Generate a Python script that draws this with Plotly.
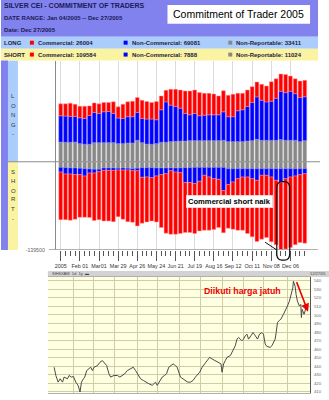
import plotly.graph_objects as go

W, H = 329, 400
def fx(x): return x / W
def fy(y): return 1 - y / H

# ---------------- COT data (contracts) ----------------
weeks = list(range(1, 53))
tick_weeks = [1, 5, 9, 13, 17, 21, 25, 29, 33, 37, 41, 45, 49]
tick_labels = ["2005", "Feb 01", "Mar01", "Mar 29", "Apr 26", "May 24", "Jun 21",
               "Jul 19", "Aug 16", "Sep 12", "Oct 11", "Nov 08", "Dec 06"]

long_comm = [18800, 19300, 20900, 19300, 18300, 19300, 15100, 15100, 15100, 14600,
             14100, 18300, 17800, 22500, 23500, 24500, 23500, 28700, 27700, 26100,
             28700, 21900, 18300, 25100, 27200, 28700, 35500, 37600, 37100, 36600,
             34500, 33900, 32900, 29800, 33400, 33900, 35500, 27700, 26100, 26100,
             25100, 23500, 25100, 25100, 30800, 30800, 27200, 28700, 24000, 23500,
             26100, 26004]
long_noncomm = [41300, 41300, 40700, 40200, 40700, 40700, 45400, 47500, 46000, 48600,
                49100, 46000, 40200, 39700, 41300, 41300, 43900, 38100, 39200, 39700,
                37600, 51200, 63700, 57500, 54800, 51700, 43400, 40700, 42800, 39200,
                40200, 40700, 40700, 40700, 44900, 39200, 39200, 48600, 50100, 54300,
                60100, 66900, 63200, 60600, 61600, 66300, 76300, 75200, 77300, 73600,
                69500, 69081]
long_nonrep = [31300, 30800, 30800, 31300, 28700, 27700, 27700, 30300, 30300, 30300,
               30300, 30300, 28700, 28700, 29800, 29800, 33900, 30300, 28200, 27700,
               28700, 30800, 30800, 31900, 32400, 32900, 32900, 33400, 33400, 33400,
               33400, 33400, 33400, 33400, 33900, 31900, 31900, 31900, 31900, 32900,
               33400, 35500, 33900, 33900, 33900, 33900, 35000, 33900, 33900, 33900,
               31900, 33411]
short_comm = [75200, 72100, 73100, 70600, 67400, 65200, 70400, 75200, 75700, 79900,
              79900, 81000, 73700, 77900, 81600, 81500, 87200, 72600, 71100, 68400,
              72600, 83600, 94000, 100400, 98200, 96100, 78900, 78800, 78800, 78400,
              86700, 84000, 80300, 76200, 66700, 68900, 74700, 81500, 84000, 89200,
              91900, 96600, 100800, 98200, 102200, 101700, 105600, 111100, 111100, 108500,
              107100, 109584]
short_noncomm = [7300, 9900, 9400, 10400, 9900, 11500, 6300, 5700, 3700, 3700,
                 3700, 3700, 2600, 3100, 2600, 3100, 3700, 15100, 14600, 15700,
                 12500, 10400, 8900, 4200, 6300, 7300, 23500, 23500, 25600, 21900,
                 12500, 15100, 17800, 18800, 36600, 25100, 20900, 15700, 13100, 13100,
                 15700, 18300, 10400, 10400, 13100, 18300, 21900, 15700, 13100, 11500,
                 9400, 7888]
short_nonrep = [8900, 9400, 9900, 9900, 10400, 11000, 11500, 12000, 12000, 9900,
                9900, 9900, 10400, 9900, 10400, 11000, 10400, 9400, 9400, 9400,
                9900, 9900, 9900, 9900, 9900, 9900, 9400, 9400, 8900, 8900,
                8900, 8900, 8900, 8900, 8900, 11000, 11000, 11000, 11000, 11000,
                11000, 11000, 11000, 11000, 11000, 11000, 11000, 11000, 11000, 11000,
                11000, 11024]

y_bottom, y_top = -139500, 159800

# ---------------- price data ----------------
price_day = [6.3, 8, 10.3, 12.3, 14.7, 16.3, 19.7, 21.3, 23.7, 25.7,
             28, 30.3, 32.3, 33.7, 35.7, 37, 39, 41.3, 43, 44.7,
             46.3, 49.7, 52.3, 54.7, 56.3, 59, 61.3, 63, 66.3, 69.7,
             72.3, 74.7, 77, 79.7, 83, 85.7, 88, 89.7, 93, 95.7,
             98, 101.3, 104.7, 108, 109.7, 112.3, 114.7, 117, 119, 121.3,
             123.7, 125.7, 128, 129.7, 133, 135.7, 138, 140.3, 143, 145.7,
             148, 149.7, 152.3, 154.7, 157, 159.7, 162.3, 164.7, 168, 171.3,
             173.7, 174.7, 176.3, 178, 179.7, 183, 184.7, 186.3, 188, 189.7,
             191.3, 193, 194.7, 196.3, 198, 199.7, 201.3, 203.7, 205.7, 207,
             209, 210.3, 212.3, 214.7, 216.3, 218, 219.7, 221.3, 223, 224.7,
             226.3, 228, 229, 230.3, 232.3, 233.7, 236.3, 239, 240.3, 242.3,
             243.7, 245.7, 246.3, 248, 249, 250.3, 252.3, 253.7, 254.3, 255,
             255.7, 257, 258, 259, 259.7]
price_val = [438.7, 429.0, 421.2, 425.1, 421.2, 427.1, 425.1, 429.0, 427.1, 427.8,
             421.2, 417.4, 409.6, 421.2, 425.1, 427.1, 434.8, 436.8, 438.7, 434.8,
             438.7, 440.6, 444.5, 446.5, 444.5, 440.6, 430.9, 427.1, 429.0, 429.0,
             427.1, 429.0, 430.9, 434.8, 436.8, 438.7, 434.8, 430.9, 425.1, 423.2,
             421.2, 419.3, 417.4, 421.2, 417.4, 423.2, 427.1, 429.0, 430.9, 438.7,
             440.6, 442.6, 440.6, 438.7, 427.1, 425.1, 423.2, 421.2, 421.2, 423.2,
             427.1, 429.0, 432.9, 438.7, 442.6, 446.5, 450.3, 448.4, 446.5, 444.5,
             442.6, 432.9, 442.6, 446.5, 450.3, 452.3, 456.2, 460.0, 463.9, 471.7,
             473.6, 471.7, 469.7, 471.7, 475.6, 477.5, 471.7, 475.6, 479.4, 477.5,
             473.6, 471.7, 477.5, 479.4, 477.5, 465.9, 463.1, 462.7, 462.0, 463.9,
             467.8, 471.7, 479.4, 491.1, 493.8, 495.0, 500.8, 506.6, 510.5, 516.3,
             524.1, 531.8, 539.6, 533.8, 524.1, 516.3, 510.5, 512.4, 497.0, 506.6,
             504.7, 500.8, 504.7, 508.5, 512.4]
price_month_ticks = [26, 46, 67, 90, 110, 132, 153, 175, 196, 216, 240]
price_ticks = [410, 420, 430, 440, 450, 460, 470, 480, 490, 500, 510, 520, 530, 540]
price_range = [408.4, 544.7]

RED, BLUE, GRAY = "#ff0000", "#0000ff", "#888888"

fig = go.Figure()

def bar(vals, color, edge, sign=1):
    fig.add_trace(go.Bar(x=weeks, y=[sign * v for v in vals], marker=dict(color=color, line=dict(color=edge, width=0.5)),
                         xaxis="x", yaxis="y", hoverinfo="skip"))

bar(long_nonrep, GRAY, "#c8c8c8")
bar(long_noncomm, BLUE, "#7070ff")
bar(long_comm, RED, "#ff9a9a")
bar(short_nonrep, GRAY, "#c8c8c8", -1)
bar(short_noncomm, BLUE, "#7070ff", -1)
bar(short_comm, RED, "#ff9a9a", -1)

fig.add_trace(go.Scatter(x=price_day, y=price_val, mode="lines", line=dict(color="#4a4a4a", width=1),
                         xaxis="x2", yaxis="y2", hoverinfo="skip"))

shapes = []
def rect(x0, y0, x1, y1, color, layer="below"):
    shapes.append(dict(type="rect", xref="paper", yref="paper", x0=fx(x0), x1=fx(x1), y0=fy(y1), y1=fy(y0),
                       fillcolor=color, line=dict(width=0), layer=layer))

PERI, LBLUE, LYEL = "#8282ee", "#abcdfc", "#faf4a2"
rect(0, 0, 318, 37, PERI)
rect(0, 37, 318, 49, LBLUE)
rect(0, 49, 318, 61, LYEL)
rect(167, 5, 310, 24, "#ffffff")
rect(0, 61, 7, 252, PERI)
shapes.append(dict(type="rect", xref="paper", yref="y", x0=fx(7), x1=fx(17), y0=0, y1=y_top,
                   fillcolor=LBLUE, line=dict(width=0), layer="below"))
shapes.append(dict(type="rect", xref="paper", yref="y", x0=fx(7), x1=fx(17), y0=y_bottom, y1=0,
                   fillcolor=LYEL, line=dict(width=0), layer="below"))
# legend squares
for yy in (41, 53):
    rect(29, yy, 33, yy + 4, RED, "above")
    rect(123, yy, 127, yy + 4, BLUE, "above")
    rect(228, yy, 232, yy + 4, GRAY, "above")
# zero line and bottom axis line
shapes.append(dict(type="line", xref="paper", yref="y", x0=fx(7), x1=fx(320), y0=0, y1=0,
                   line=dict(color="#8c8c8c", width=1), layer="above"))
shapes.append(dict(type="line", xref="paper", yref="y", x0=fx(48), x1=fx(318), y0=y_bottom, y1=y_bottom,
                   line=dict(color="#999999", width=1.5), layer="above"))
# price chart background + header
rect(47, 279, 310, 396, "#ffffe2")
rect(47, 273, 329, 279, "#d2d2d2")

# rounded highlight around the largest commercial short bars
xa, xb = 46.15, 48.85
ta, bb = fy(183), fy(262)
rx, ry = 1.1, 0.016
path = (f"M {xa+rx},{ta} L {xb-rx},{ta} Q {xb},{ta} {xb},{ta-ry} L {xb},{bb+ry} Q {xb},{bb} {xb-rx},{bb} "
        f"L {xa+rx},{bb} Q {xa},{bb} {xa},{bb+ry} L {xa},{ta-ry} Q {xa},{ta} {xa+rx},{ta} Z")
shapes.append(dict(type="path", xref="x", yref="paper", path=path, line=dict(color="#111111", width=1.2),
                   fillcolor="rgba(0,0,0,0)", layer="above"))
shapes.append(dict(type="line", xref="x", yref="paper", x0=43.7, x1=46.2, y0=fy(244), y1=fy(252),
                   line=dict(color="#111111", width=1), layer="above"))

ann = []
FONT = "Liberation Sans, Arial, sans-serif"
def txt(x, y, s, size, color="#111111", xanchor="left", family=FONT, **kw):
    ann.append(dict(x=fx(x), y=fy(y), xref="paper", yref="paper", text=s, showarrow=False,
                    xanchor=xanchor, yanchor="middle", font=dict(size=size, color=color, family=family), **kw))

NAVY = "#1a1a58"
txt(1, 6, "<b>SILVER CEI - COMMITMENT OF TRADERS</b>", 7, NAVY)
txt(1, 18, "<b>DATE RANGE: Jan 04/2005 -- Dec 27/2005</b>", 6, NAVY)
txt(1, 30, "<b>Date: Dec 27/2005</b>", 6, NAVY)
txt(238.5, 14.5, "Commitment of Trader 2005", 10.5, "#000000", xanchor="center")

txt(1, 43, "<b>LONG</b>", 6, "#222244")
txt(35, 43, f"<b>Commercial: {long_comm[-1]}</b>", 6, "#222244")
txt(129, 43, f"<b>Non-Commercial: {long_noncomm[-1]}</b>", 6, "#222244")
txt(234, 43, f"<b>Non-Reportable: {long_nonrep[-1]}</b>", 6, "#222244")
txt(1, 55, "<b>SHORT</b>", 6, "#222244")
txt(35, 55, f"<b>Commercial: {short_comm[-1]}</b>", 6, "#222244")
txt(129, 55, f"<b>Non-Commercial: {short_noncomm[-1]}</b>", 6, "#222244")
txt(234, 55, f"<b>Non-Reportable: {short_nonrep[-1]}</b>", 6, "#222244")

for ch, yy in zip("LONG-", [97, 106.5, 116, 125.5, 135]):
    txt(12.5, yy, ch, 6, "#333333", xanchor="center")
for ch, yy in zip("SHORT-", [173, 182.5, 192, 201, 210.5, 221]):
    txt(12.5, yy, ch, 6, "#333333", xanchor="center")

txt(229, 203, "<b>Commercial short naik</b>", 7.6, "#000000", xanchor="center",
    bgcolor="#ffffff", bordercolor="#dddddd", borderwidth=0.5, borderpad=1.5)
txt(242, 293, "<b>Diikuti harga jatuh</b>", 8.8, "#ee0000", xanchor="center")
txt(49, 276, "SIH6XAM  1d  1y  ▬", 4, "#444444")
txt(328, 276, "12/27/05", 4, "#444444", xanchor="right")

ann.append(dict(x=fx(308), y=fy(314), xref="paper", yref="paper", ax=-12, ay=-31, axref="pixel", ayref="pixel",
                showarrow=True, arrowhead=2, arrowsize=1, arrowwidth=1.6, arrowcolor="#ee0000", text=""))

fig.update_layout(
    width=W, height=H, margin=dict(l=0, r=0, t=0, b=0), autosize=False,
    paper_bgcolor="#ffffff", plot_bgcolor="rgba(0,0,0,0)", showlegend=False,
    barmode="relative", bargap=0.21,
    shapes=shapes, annotations=ann,
    xaxis=dict(domain=[fx(55), fx(318)], range=[-0.02, 54.77], anchor="y",
               tickmode="array", tickvals=tick_weeks, ticktext=tick_labels,
               ticks="outside", ticklen=10, tickwidth=1, tickcolor="#555555",
               tickfont=dict(size=5.4, color="#333333", family=FONT),
               showgrid=True, gridcolor="#dcdcdc", gridwidth=1, zeroline=False, showline=False,
               minor=dict(tickmode="array", tickvals=weeks, ticks="outside", ticklen=5,
                          tickcolor="#555555", tickwidth=1, showgrid=False)),
    yaxis=dict(domain=[fy(252), fy(61)], range=[y_bottom, y_top], anchor="x",
               tickmode="array", tickvals=[y_bottom], ticktext=[str(y_bottom)], ticks="",
               tickfont=dict(size=5.2, color="#666666", family=FONT), ticklabelstandoff=9,
               showgrid=False, zeroline=False, showline=True, linecolor="#8a8a8a", linewidth=1),
    xaxis2=dict(domain=[fx(47), fx(310)], range=[0, 263], anchor="y2",
                tickmode="array", tickvals=price_month_ticks, showticklabels=False, ticks="",
                showgrid=True, gridcolor="#cdcda6", gridwidth=1, zeroline=False,
                showline=True, mirror=True, linecolor="#b0b0b0", linewidth=1),
    yaxis2=dict(domain=[fy(396), fy(279)], range=price_range, anchor="x2", side="right",
                tickmode="array", tickvals=price_ticks, ticks="",
                tickfont=dict(size=4.3, color="#666666", family=FONT), ticklabelstandoff=2,
                showgrid=True, gridcolor="#cdcda6", gridwidth=1, zeroline=False,
                showline=True, linecolor="#555555", linewidth=1),
)

fig.write_html("out.html")
